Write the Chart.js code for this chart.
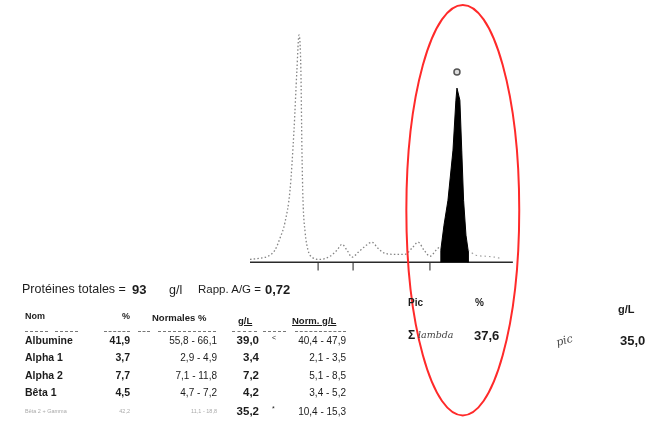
<!DOCTYPE html>
<html lang="fr">
<head>
<meta charset="utf-8">
<script src="https://cdn.jsdelivr.net/npm/chart.js@4/dist/chart.umd.min.js"></script>
<style>
  body { margin: 0; background: #fff; width: 651px; height: 421px; overflow: hidden; position: relative;
         font-family: "Liberation Sans", Arial, sans-serif; color: #1c1c1c; }
  #trace { position: absolute; left: 0; top: 0; }
  .t { position: absolute; white-space: nowrap; line-height: 1; }
  .b { font-weight: bold; }
  .hand { font-family: "DejaVu Serif", serif; font-style: italic; color: #444; }
  .rule { position: absolute; border-top: 1px dashed #777; height: 0; }
</style>
</head>
<body>
<canvas id="trace" width="651" height="421"></canvas>
<div id="labels"></div>
<script>
// electrophoresis trace (x = migration, y = relative density)
const curveX = [0, 3.8, 6.8, 9.4, 11.3, 13.2, 15.1, 16.6, 17.7, 18.5, 19.2, 19.6, 20.0, 20.8, 21.9, 23.4,
  26.4, 30.2, 32.8, 34.7, 36.6, 38.5, 40.8, 43.4, 46.0, 48.3, 50.9, 54.7, 58.5, 61.1, 63.4, 65.7, 67.9, 70.2, 71.7];
const curveY = [1.2, 1.7, 2.5, 5.0, 9.9, 16.5, 29.8, 54.5, 79.3, 93.8, 79.3, 46.3, 25.6, 12.4, 5.0, 2.1,
  1.2, 2.5, 5.0, 7.4, 5.0, 2.1, 4.1, 6.6, 8.3, 5.8, 3.7, 3.3, 3.3, 5.8, 8.3, 5.0, 2.5, 5.0, 6.6];
// monoclonal spike (gamma zone)
const spikeX = [72.0, 72.0, 73.2, 74.7, 76.6, 77.7, 78.1, 79.2, 79.9, 80.6, 81.5, 82.3, 82.3];
const spikeY = [0, 5.0, 15.3, 25.6, 46.3, 66.9, 71.9, 66.9, 46.3, 25.6, 11.2, 5.0, 0];
const tailX = [82.3, 85.3, 89.1, 92.5, 94.3];
const tailY = [5.0, 2.9, 2.5, 2.1, 1.7];
// fraction boundaries marked under the baseline
const cutX = [25.7, 38.9, 67.9];
const peakMark = { x: 78.1, y: 78.5 };

// report table
const fractions = ['Albumine', 'Alpha 1', 'Alpha 2', 'Bêta 1', 'Bêta 2 + Gamma'];
const percents = ['41,9', '3,7', '7,7', '4,5', '42,2'];
const normPct = ['55,8 - 66,1', '2,9 - 4,9', '7,1 - 11,8', '4,7 - 7,2', '11,1 - 18,8'];
const gramsL = ['39,0', '3,4', '7,2', '4,2', '35,2'];
const normGL = ['40,4 - 47,9', '2,1 - 3,5', '5,1 - 8,5', '3,4 - 5,2', '10,4 - 15,3'];
const flags = ['<', '', '', '', '*'];
const totalProt = '93';
const ratioAG = '0,72';
const picPct = '37,6';
const picGL = '35,0';

const pts = (xs, ys) => xs.map((x, i) => ({ x, y: ys[i] }));
const cutPts = [];
cutX.forEach(x => { cutPts.push({ x, y: 0 }, { x, y: -3.4 }, { x, y: null }); });

const ellipsePlugin = {
  id: 'circled',
  afterDraw(chart) {
    const { ctx, scales: { x, y } } = chart;
    const cx = x.getPixelForValue(80.3), cy = y.getPixelForValue(21.5);
    const rx = x.getPixelForValue(80.3 + 21.3) - cx;
    const ry = y.getPixelForValue(0) - y.getPixelForValue(84.7);
    ctx.save();
    ctx.strokeStyle = '#ff2a2a';
    ctx.lineWidth = 2;
    ctx.beginPath();
    ctx.ellipse(cx, cy, rx, ry, 0, 0, Math.PI * 2);
    ctx.stroke();
    ctx.restore();
  }
};

new Chart(document.getElementById('trace'), {
  type: 'scatter',
  data: {
    datasets: [
      { data: pts(curveX, curveY), showLine: true, borderColor: 'rgba(110,110,110,0.85)', borderWidth: 1.3,
        borderDash: [1.5, 2.2], pointRadius: 0, cubicInterpolationMode: 'monotone' },
      { data: pts(tailX, tailY), showLine: true, borderColor: 'rgba(120,120,120,0.7)', borderWidth: 1.2,
        borderDash: [1.5, 3], pointRadius: 0, cubicInterpolationMode: 'monotone' },
      { data: pts(spikeX, spikeY), showLine: true, borderColor: '#000', backgroundColor: '#000', borderWidth: 1,
        fill: 'origin', pointRadius: 0 },
      { data: [{ x: 0, y: 0 }, { x: 99.2, y: 0 }], showLine: true, borderColor: '#2a2a2a', borderWidth: 1.4, pointRadius: 0 },
      { data: cutPts, showLine: true, spanGaps: false, borderColor: '#444', borderWidth: 1.2, pointRadius: 0 },
      { data: [peakMark], pointRadius: 3, pointBorderWidth: 1.5, pointBorderColor: '#555', pointBackgroundColor: '#ddd' }
    ]
  },
  options: {
    responsive: false,
    animation: false,
    events: [],
    layout: { padding: { left: 250, right: 136, top: 20, bottom: 149 } },
    plugins: { legend: { display: false }, tooltip: { enabled: false } },
    scales: {
      x: { type: 'linear', min: 0, max: 100, display: false },
      y: { min: -4, max: 100, display: false }
    }
  },
  plugins: [ellipsePlugin]
});

const box = document.getElementById('labels');
function put(text, x, cy, size, cls, align) {
  const d = document.createElement('div');
  d.className = 't ' + (cls || '');
  d.textContent = text;
  d.style.fontSize = size + 'px';
  d.style.top = (cy - size * 0.55) + 'px';
  if (align === 'right') d.style.right = (651 - x) + 'px';
  else d.style.left = x + 'px';
  box.appendChild(d);
  return d;
}

// totals line
put('Protéines totales =', 22, 290, 12.5);
put(totalProt, 132, 290, 13, 'b');
put('g/l', 169, 291, 12.5);
put('Rapp. A/G =', 198, 290, 11.5);
put(ratioAG, 265, 290, 13, 'b');

// headers
put('Nom', 25, 317, 9, 'b');
put('%', 130, 317, 9, 'b', 'right');
put('Normales %', 152, 318, 9.5, 'b');
put('g/L', 238, 321, 9.5, 'b').style.textDecoration = 'underline';
put('Norm. g/L', 292, 321, 9.5, 'b').style.textDecoration = 'underline';
[[25, 48], [55, 78], [104, 130], [138, 150], [158, 216], [232, 257], [263, 286], [295, 346]].forEach(([a, b]) => {
  const r = document.createElement('div');
  r.className = 'rule';
  r.style.left = a + 'px'; r.style.width = (b - a) + 'px'; r.style.top = '331px';
  box.appendChild(r);
});

const rowY = [341, 358, 376, 393, 412];
fractions.forEach((name, i) => {
  const faded = i === fractions.length - 1;
  const small = faded ? 5.5 : 10.5;
  const cls = faded ? '' : 'b';
  const n = put(name, 25, rowY[i], small, cls);
  const p = put(percents[i], 130, rowY[i], small, cls, 'right');
  const q = put(normPct[i], 217, rowY[i], faded ? 5.5 : 10, '', 'right');
  if (faded) [n, p, q].forEach(e => { e.style.color = '#aaa'; });
  put(gramsL[i], 259, rowY[i], 11.5, 'b', 'right');
  if (flags[i]) put(flags[i], 272, rowY[i] - 3, 7, '');
  put(normGL[i], 346, rowY[i], 10, '', 'right');
});

// monoclonal peak block
put('Pic', 408, 303, 10, 'b');
put('%', 475, 303, 10, 'b');
put('g/L', 618, 310, 11, 'b');
put('Σ', 408, 336, 12, 'b');
put('lambda', 418, 335, 9.5, 'hand');
put(picPct, 474, 336, 13, 'b');
put('pic', 556, 341, 11, 'hand').style.transform = 'rotate(-15deg)';
put(picGL, 620, 341, 13, 'b');
</script>
</body>
</html>
